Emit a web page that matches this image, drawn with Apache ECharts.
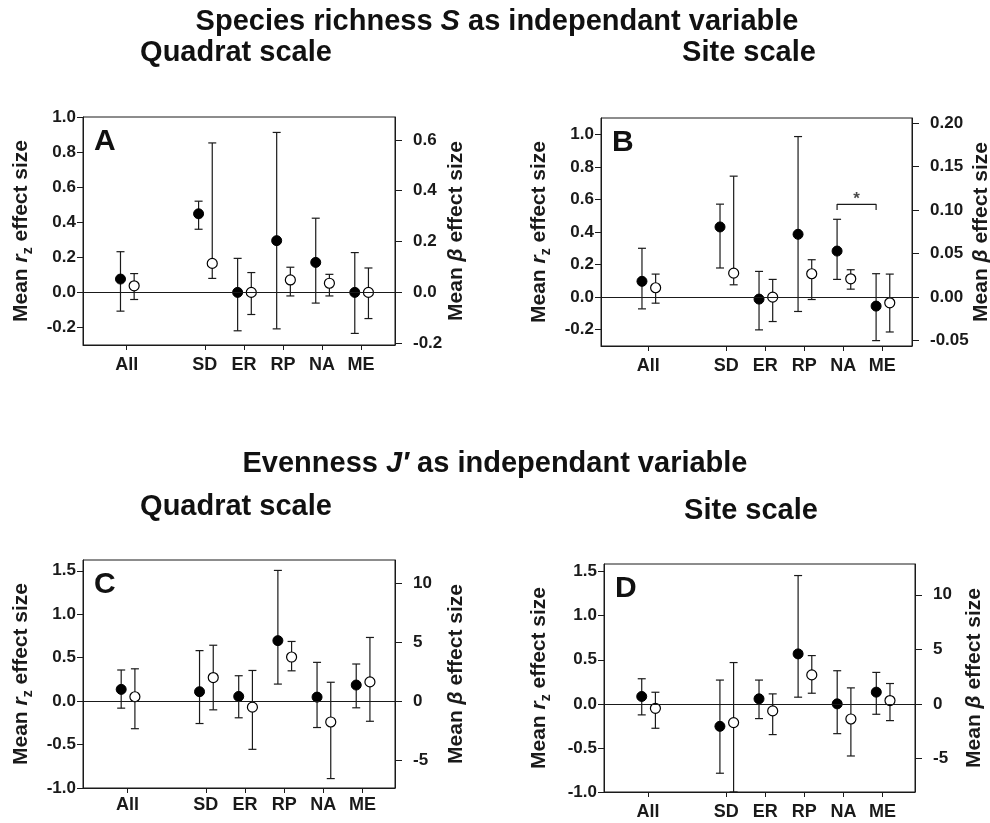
<!DOCTYPE html>
<html>
<head>
<meta charset="utf-8">
<script src="https://cdn.jsdelivr.net/npm/echarts@6/dist/echarts.min.js"></script>
<style>
  html, body { margin: 0; padding: 0; background: #fff; }
  #chart { width: 990px; height: 823px; }
</style>
</head>
<body>
<div id="chart"></div>
<script>
// categories (x positions: 2 is the empty gap between All and SD)
const cats = ['All', 'SD', 'ER', 'RP', 'NA', 'ME']
const catX = [1, 3, 4, 5, 6, 7]

// A: species richness, quadrat scale
const aRzMean = [0.076, 0.448, 0.0, 0.295, 0.171, 0.0]
const aRzLow = [-0.107, 0.36, -0.219, -0.208, -0.061, -0.234]
const aRzHigh = [0.232, 0.52, 0.194, 0.912, 0.423, 0.227]
const aBetaMean = [0.026, 0.114, 0.0, 0.049, 0.036, 0.0]
const aBetaLow = [-0.028, 0.055, -0.087, -0.014, -0.014, -0.103]
const aBetaHigh = [0.074, 0.588, 0.078, 0.099, 0.071, 0.096]

// B: species richness, site scale
const bRzMean = [0.097, 0.431, -0.012, 0.386, 0.283, -0.055]
const bRzLow = [-0.072, 0.179, -0.201, -0.088, 0.109, -0.267]
const bRzHigh = [0.30, 0.571, 0.158, 0.986, 0.478, 0.144]
const bBetaMean = [0.0108, 0.0276, 0.0, 0.0269, 0.0211, -0.0065]
const bBetaLow = [-0.0069, 0.0142, -0.028, -0.0027, 0.0092, -0.040]
const bBetaHigh = [0.0265, 0.139, 0.0204, 0.043, 0.0315, 0.0265]

// C: evenness, quadrat scale
const cRzMean = [0.135, 0.108, 0.054, 0.696, 0.046, 0.185]
const cRzLow = [-0.081, -0.258, -0.192, 0.196, -0.304, -0.077]
const cRzHigh = [0.358, 0.581, 0.292, 1.504, 0.446, 0.427]
const cBetaMean = [0.37, 2.0, -0.51, 3.74, -1.77, 1.63]
const cBetaLow = [-2.34, -0.74, -4.09, 2.57, -6.57, -1.71]
const cBetaHigh = [2.74, 4.74, 2.6, 5.06, 1.6, 5.4]

// D: evenness, site scale
const dRzMean = [0.084, -0.255, 0.057, 0.567, 0.0, 0.133]
const dRzLow = [-0.125, -0.787, -0.167, 0.076, -0.338, -0.118]
const dRzHigh = [0.285, 0.27, 0.27, 1.456, 0.376, 0.357]
const dBetaMean = [-0.4, -1.71, -0.64, 2.66, -1.38, 0.31]
const dBetaLow = [-2.23, -8.07, -2.81, 0.98, -4.77, -1.53]
const dBetaHigh = [1.07, 3.79, 0.92, 4.43, 1.47, 1.87]

// tick labels
const rzTicksS = [-0.2, 0, 0.2, 0.4, 0.6, 0.8, 1.0]
const betaTicksA = [-0.2, 0, 0.2, 0.4, 0.6]
const betaTicksB = [-0.05, 0, 0.05, 0.10, 0.15, 0.20]
const rzTicksJ = [-1.0, -0.5, 0, 0.5, 1.0, 1.5]
const betaTicksJ = [-5, 0, 5, 10]

// significance bracket in B (NA vs ME, filled points)
const sigCats = ['NA', 'ME']
const sigY = 0.57
const sigDrop = 0.035

const FONT = '"Liberation Sans", Arial, Helvetica, sans-serif'
const INK = '#1a1a1a'
const OFF_FILLED = -0.16
const OFF_OPEN = 0.19

const panels = [
  { letter: 'A', grid: { left: 83, top: 117, width: 312, height: 228 }, xMin: -0.12, xMax: 7.87,
    lMin: -0.3, lMax: 1.0, lTicks: rzTicksS, lDec: 1, rMin: -0.207, rMax: 0.69, rTicks: betaTicksA, rDec: 1,
    lGap: 48, rGap: 47, xMargin: 11,
    rz: [aRzMean, aRzLow, aRzHigh], beta: [aBetaMean, aBetaLow, aBetaHigh] },
  { letter: 'B', grid: { left: 601, top: 118, width: 311, height: 228 }, xMin: -0.21, xMax: 7.76,
    lMin: -0.3, lMax: 1.1, lTicks: rzTicksS, lDec: 1, rMin: -0.0561, rMax: 0.2058, rTicks: betaTicksB, rDec: 2,
    lGap: 48, rGap: 55, xMargin: 11,
    rz: [bRzMean, bRzLow, bRzHigh], beta: [bBetaMean, bBetaLow, bBetaHigh] },
  { letter: 'C', grid: { left: 83, top: 560, width: 312, height: 228 }, xMin: -0.135, xMax: 7.83,
    lMin: -1.0, lMax: 1.624, lTicks: rzTicksJ, lDec: 1, rMin: -7.37, rMax: 11.97, rTicks: betaTicksJ, rDec: 0,
    lGap: 48, rGap: 47, xMargin: 8,
    rz: [cRzMean, cRzLow, cRzHigh], beta: [cBetaMean, cBetaLow, cBetaHigh] },
  { letter: 'D', grid: { left: 604, top: 564, width: 311, height: 228 }, xMin: -0.125, xMax: 7.83,
    lMin: -1.0, lMax: 1.587, lTicks: rzTicksJ, lDec: 1, rMin: -8.07, rMax: 12.82, rTicks: betaTicksJ, rDec: 0,
    lGap: 51, rGap: 45, xMargin: 11,
    rz: [dRzMean, dRzLow, dRzHigh], beta: [dBetaMean, dBetaLow, dBetaHigh] }
]

function errRender(params, api) {
  const x = api.value(0)
  const hi = api.coord([x, api.value(2)])
  const lo = api.coord([x, api.value(1)])
  const w = 4
  const st = { stroke: INK, lineWidth: 1.2 }
  return {
    type: 'group',
    children: [
      { type: 'line', shape: { x1: hi[0], y1: hi[1], x2: lo[0], y2: lo[1] }, style: st },
      { type: 'line', shape: { x1: hi[0] - w, y1: hi[1], x2: hi[0] + w, y2: hi[1] }, style: st },
      { type: 'line', shape: { x1: lo[0] - w, y1: lo[1], x2: lo[0] + w, y2: lo[1] }, style: st }
    ]
  }
}

const tickLabel = { fontFamily: FONT, fontWeight: 'bold', fontSize: 17, color: INK }
const nameStyle = {
  fontFamily: FONT, fontWeight: 'bold', fontSize: 21, color: INK, lineHeight: 28,
  rich: {
    i: { fontFamily: FONT, fontWeight: 'bold', fontStyle: 'italic', fontSize: 21, color: INK, lineHeight: 28 },
    s: { fontFamily: FONT, fontWeight: 'bold', fontSize: 14, color: INK, lineHeight: 10, verticalAlign: 'bottom' },
    n: { fontFamily: FONT, fontWeight: 'bold', fontSize: 21, color: INK, lineHeight: 28 }
  }
}

const grids = [], xAxes = [], yAxes = [], series = [], graphics = []

panels.forEach((p, i) => {
  grids.push(Object.assign({
    show: true, borderColor: INK, borderWidth: 1, backgroundColor: 'transparent',
    containLabel: false, outerBoundsMode: 'none'
  }, p.grid))
  xAxes.push({
    type: 'value', gridIndex: i, min: p.xMin, max: p.xMax, position: 'bottom',
    axisLine: { show: true, onZero: false, lineStyle: { color: INK, width: 1 } },
    axisTick: { show: true, inside: false, length: 5, lineStyle: { color: INK }, customValues: catX },
    axisLabel: Object.assign({ margin: p.xMargin, customValues: catX,
      formatter: v => cats[catX.indexOf(Math.round(v))] || '' }, tickLabel, { fontSize: 18 }),
    splitLine: { show: false }
  })
  yAxes.push({
    type: 'value', gridIndex: i, position: 'left', min: p.lMin, max: p.lMax,
    name: '{n|Mean }{i|r}{s|z}{n| effect size}', nameLocation: 'middle', nameRotate: 90, nameGap: p.lGap,
    nameMoveOverlap: false, nameTextStyle: nameStyle,
    axisLine: { show: true, onZero: false, lineStyle: { color: INK, width: 1 } },
    axisTick: { show: true, length: 6, lineStyle: { color: INK }, customValues: p.lTicks },
    axisLabel: Object.assign({ margin: 7, customValues: p.lTicks, formatter: v => v.toFixed(p.lDec) }, tickLabel),
    splitLine: { show: false }
  })
  yAxes.push({
    type: 'value', gridIndex: i, position: 'right', min: p.rMin, max: p.rMax,
    name: '{n|Mean }{i|β}{n| effect size}', nameLocation: 'middle', nameRotate: 90, nameGap: p.rGap,
    nameMoveOverlap: false, nameTextStyle: nameStyle,
    axisLine: { show: true, onZero: false, lineStyle: { color: INK, width: 1 } },
    axisTick: { show: true, length: 7, lineStyle: { color: INK }, customValues: p.rTicks },
    axisLabel: Object.assign({ margin: 18, customValues: p.rTicks, formatter: v => v.toFixed(p.rDec) }, tickLabel),
    splitLine: { show: false }
  })

  const [rm, rl, rh] = p.rz
  const [bm, bl, bh] = p.beta
  series.push({
    type: 'custom', xAxisIndex: i, yAxisIndex: 2 * i, renderItem: errRender, clip: false, silent: true,
    encode: { x: 0, y: [1, 2] }, z: 2,
    data: catX.map((x, k) => [x + OFF_FILLED, rl[k], rh[k]])
  })
  series.push({
    type: 'custom', xAxisIndex: i, yAxisIndex: 2 * i + 1, renderItem: errRender, clip: false, silent: true,
    encode: { x: 0, y: [1, 2] }, z: 2,
    data: catX.map((x, k) => [x + OFF_OPEN, bl[k], bh[k]])
  })
  series.push({
    type: 'scatter', xAxisIndex: i, yAxisIndex: 2 * i, symbolSize: 10, z: 3, silent: true,
    itemStyle: { color: '#000', borderColor: '#000', borderWidth: 1, opacity: 1 },
    data: catX.map((x, k) => [x + OFF_FILLED, rm[k]]),
    markLine: {
      silent: true, symbol: ['none', 'none'], label: { show: false },
      lineStyle: { color: INK, width: 1, type: 'solid' },
      data: [{ yAxis: 0 }]
    }
  })
  series.push({
    type: 'scatter', xAxisIndex: i, yAxisIndex: 2 * i + 1, symbolSize: 10, z: 3, silent: true,
    itemStyle: { color: '#fff', borderColor: '#000', borderWidth: 1.2, opacity: 1 },
    data: catX.map((x, k) => [x + OFF_OPEN, bm[k]])
  })

  graphics.push({
    type: 'text', x: p.grid.left + 11, y: p.grid.top + 25,
    style: { text: p.letter, fontFamily: FONT, fontWeight: 'bold', fontSize: 30, fill: '#111', verticalAlign: 'middle' }
  })
})

// bracket + asterisk in B
const sx = sigCats.map(c => catX[cats.indexOf(c)] + OFF_FILLED)
series.push({
  type: 'line', xAxisIndex: 1, yAxisIndex: 2, symbol: 'none', silent: true, z: 2,
  lineStyle: { color: INK, width: 1.2 },
  data: [[sx[0], sigY - sigDrop], [sx[0], sigY], [sx[1], sigY], [sx[1], sigY - sigDrop]]
})
series.push({
  type: 'scatter', xAxisIndex: 1, yAxisIndex: 2, symbolSize: 2, silent: true, z: 4,
  itemStyle: { color: 'rgba(0,0,0,0)' },
  label: { show: true, position: 'inside', formatter: '*', fontFamily: FONT, fontWeight: 'bold', fontSize: 17, color: INK },
  data: [[(sx[0] + sx[1]) / 2, sigY + 0.03]]
})

const titleStyle = { fontFamily: FONT, fontWeight: 'bold', fontSize: 29, fill: '#111', align: 'center', verticalAlign: 'middle' }
const titleRich = {
  i: { fontFamily: FONT, fontWeight: 'bold', fontStyle: 'italic', fontSize: 29, fill: '#111' },
  n: { fontFamily: FONT, fontWeight: 'bold', fontSize: 29, fill: '#111' }
}
graphics.push(
  { type: 'text', x: 497, y: 22, style: Object.assign({}, titleStyle, { text: '{n|Species richness }{i|S}{n| as independant variable}', rich: titleRich }) },
  { type: 'text', x: 236, y: 53, style: Object.assign({}, titleStyle, { text: 'Quadrat scale' }) },
  { type: 'text', x: 749, y: 53, style: Object.assign({}, titleStyle, { text: 'Site scale' }) },
  { type: 'text', x: 495, y: 464, style: Object.assign({}, titleStyle, { text: '{n|Evenness }{i|J\u2032}{n| as independant variable}', rich: titleRich }) },
  { type: 'text', x: 236, y: 507, style: Object.assign({}, titleStyle, { text: 'Quadrat scale' }) },
  { type: 'text', x: 751, y: 511, style: Object.assign({}, titleStyle, { text: 'Site scale' }) }
)

const chart = echarts.init(document.getElementById('chart'), null, { renderer: 'canvas' })
chart.setOption({
  backgroundColor: '#fff',
  animation: false,
  grid: grids,
  xAxis: xAxes,
  yAxis: yAxes,
  series,
  graphic: graphics
})
</script>
</body>
</html>
